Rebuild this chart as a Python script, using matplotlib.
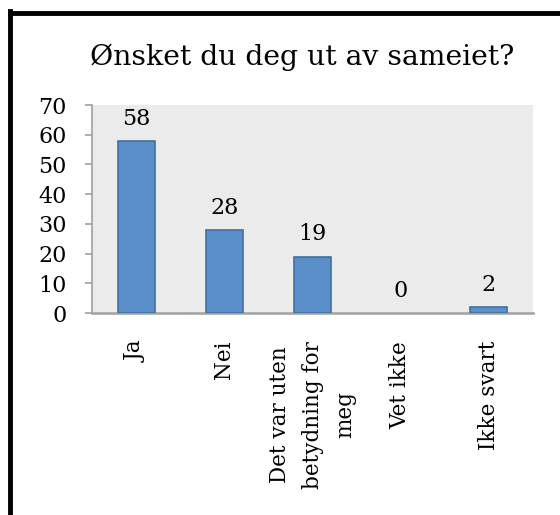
import matplotlib
matplotlib.use("Agg")
import matplotlib.pyplot as plt
from matplotlib.lines import Line2D

categories = ["Ja", "Nei", "Det var uten\nbetydning for\nmeg", "Vet ikke", "Ikke svart"]
values = [58, 28, 19, 0, 2]
yticks = [0, 10, 20, 30, 40, 50, 60, 70]
title = "Ønsket du deg ut av sameiet?"

plt.rcParams['font.family'] = ['DejaVu Serif']

fig = plt.figure(figsize=(5.6, 5.15), dpi=100)
ax = fig.add_axes([92/560, 1-313/515, (533-92)/560, (313-105)/515])
ax.set_facecolor('#EBEBEB')

x = list(range(len(categories)))
bars = ax.bar(x, values, width=0.42, color='#5B8FC9', edgecolor='#41709C', linewidth=1.2, zorder=3)
for b, v in zip(bars, values):
    if v == 0:
        b.set_linewidth(0)
for xi, v in zip(x, values):
    ax.annotate(str(v), (xi, v), xytext=(0, 8), textcoords='offset points',
                ha='center', va='bottom', fontsize=16)

ax.set_xlim(-0.5, len(categories)-0.5)
ax.set_ylim(0, 70)
ax.set_yticks(yticks)
ax.set_yticklabels([str(t) for t in yticks], fontsize=16)
ax.set_xticks(x)
ax.set_xticklabels(categories, rotation=90, fontsize=15.5, ha='center', va='top',
                   multialignment='center', linespacing=1.62)
ax.tick_params(axis='x', length=0, pad=20)
ax.tick_params(axis='y', length=5, width=1.2, color='#A0A0A0', pad=13)
for s in ['top', 'right']:
    ax.spines[s].set_visible(False)
ax.spines['left'].set_color('#A0A0A0')
ax.spines['left'].set_linewidth(1.2)
ax.spines['bottom'].set_color('#A0A0A0')
ax.spines['bottom'].set_linewidth(1.8)

fig.text(0.54, 1-57/515, title, ha='center', va='center', fontsize=20.3)

# chart frame (top and left edges visible)
fig.add_artist(Line2D([9.5/560, 1.0], [1-13/515, 1-13/515], color='black', linewidth=3.5, transform=fig.transFigure))
fig.add_artist(Line2D([9.5/560, 9.5/560], [0, 1-11/515], color='black', linewidth=3.5, transform=fig.transFigure))

fig.savefig("out.png", dpi=100)
